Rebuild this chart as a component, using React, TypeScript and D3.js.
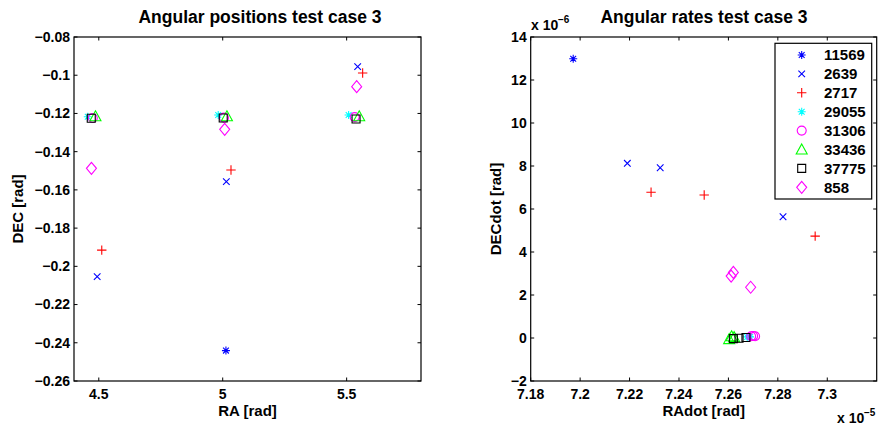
import * as d3 from "d3";

// series, in legend order
const names = ["11569", "2639", "2717", "29055", "31306", "33436", "37775", "858"];
const colors = ["#0000ff", "#0000ff", "#ff0000", "#00ffff", "#ff00ff", "#00ff00", "#000000", "#ff00ff"];
const markers = ["star", "x", "plus", "star", "circle", "triangle", "square", "diamond"];

// angular positions [rad]
const posRA = [
  [5.013],
  [4.4935, 5.0146, 5.5445],
  [4.512, 5.0334, 5.5646],
  [4.4555, 4.9818, 5.508],
  [4.4757, 5.005, 5.5324],
  [4.4866, 5.017, 5.5507],
  [4.4696, 5.002, 5.538],
  [4.4704, 5.008, 5.5405],
];
const posDEC = [
  [-0.2441],
  [-0.2054, -0.1557, -0.0955],
  [-0.1915, -0.1496, -0.0988],
  [-0.1217, -0.1208, -0.1208],
  [-0.1224, -0.1222, -0.1219],
  [-0.1215, -0.1215, -0.1215],
  [-0.1225, -0.1224, -0.1229],
  [-0.1487, -0.1283, -0.106],
];

// angular rates, RAdot in 1e-5 rad, DECdot in 1e-6 rad
const rateRA = [
  [7.1972],
  [7.2191, 7.2324, 7.2821],
  [7.2287, 7.2502, 7.2951],
  [7.2676, 7.2683, 7.2688],
  [7.2692, 7.27, 7.2708],
  [7.2603, 7.2613, 7.2623],
  [7.262, 7.2643, 7.2671],
  [7.2611, 7.262, 7.269],
];
const rateDEC = [
  [12.99],
  [8.125, 7.92, 5.64],
  [6.78, 6.65, 4.74],
  [0.05, 0.06, 0.05],
  [0.08, 0.09, 0.08],
  [-0.05, 0.08, 0.04],
  [-0.03, -0.01, 0.02],
  [2.88, 3.05, 2.36],
];

const posXTicks = [4.5, 5, 5.5];
const posYTicks = [-0.26, -0.24, -0.22, -0.2, -0.18, -0.16, -0.14, -0.12, -0.1, -0.08];
const rateXTicks = [7.18, 7.2, 7.22, 7.24, 7.26, 7.28, 7.3];
const rateYTicks = [-2, 0, 2, 4, 6, 8, 10, 12, 14];

const FONT = "'Liberation Sans', Arial, Helvetica, sans-serif";

const markerPath = (type: string) => {
  switch (type) {
    case "star":
      return "M-4,0H4M0,-4V4M-2.9,-2.9L2.9,2.9M-2.9,2.9L2.9,-2.9";
    case "x":
      return "M-3.3,-3.3L3.3,3.3M-3.3,3.3L3.3,-3.3";
    case "plus":
      return "M-4.7,0H4.7M0,-4.7V4.7";
    case "circle":
      return "M4.5,0A4.5,4.5 0 1 1 -4.5,0A4.5,4.5 0 1 1 4.5,0Z";
    case "triangle":
      return "M0,-5.5L5.5,4.5L-5.5,4.5Z";
    case "square":
      return "M-4,-4H4V4H-4Z";
    case "diamond":
      return "M0,-6L5,0L0,6L-5,0Z";
  }
  return "";
};

const fmtMinus = (v: number) => String(+v.toFixed(4)).replace("-", "\u2212");

type PanelProps = {
  x0: number;
  x1: number;
  y0: number;
  y1: number;
  xDomain: [number, number];
  yDomain: [number, number];
  xTicks: number[];
  yTicks: number[];
  xs: number[][];
  ys: number[][];
  title: string;
  titleX: number;
  xLabel: string;
  yLabel: string;
  yLabelX: number;
};

const Panel = (p: PanelProps) => {
  const x = d3.scaleLinear().domain(p.xDomain).range([p.x0, p.x1]);
  const y = d3.scaleLinear().domain(p.yDomain).range([p.y1, p.y0]);
  const tl = 3.5;
  return (
    <g fontFamily={FONT} fontWeight="bold" fill="#000">
      <rect x={p.x0} y={p.y0} width={p.x1 - p.x0} height={p.y1 - p.y0} fill="#fff" stroke="none" />
      {/* data */}
      {p.xs.map((serie, i) =>
        serie.map((v, j) => (
          <path
            key={`${i}-${j}`}
            d={markerPath(markers[i])}
            transform={`translate(${x(v)},${y(p.ys[i][j])})`}
            fill="none"
            stroke={colors[i]}
            strokeWidth={1.1}
          />
        )),
      )}
      {/* box */}
      <rect x={p.x0} y={p.y0} width={p.x1 - p.x0} height={p.y1 - p.y0} fill="none" stroke="#000" strokeWidth={1.2} />
      {p.xTicks.map((t, i) => (
        <g key={`xt${i}`}>
          <line x1={x(t)} x2={x(t)} y1={p.y1} y2={p.y1 - tl} stroke="#000" />
          <line x1={x(t)} x2={x(t)} y1={p.y0} y2={p.y0 + tl} stroke="#000" />
          <text x={x(t)} y={p.y1 + 18} textAnchor="middle" fontSize={14}>
            {fmtMinus(t)}
          </text>
        </g>
      ))}
      {p.yTicks.map((t, i) => (
        <g key={`yt${i}`}>
          <line x1={p.x0} x2={p.x0 + tl} y1={y(t)} y2={y(t)} stroke="#000" />
          <line x1={p.x1} x2={p.x1 - tl} y1={y(t)} y2={y(t)} stroke="#000" />
          <text x={p.x0 - 4} y={y(t)} dy="0.35em" textAnchor="end" fontSize={14}>
            {fmtMinus(t)}
          </text>
        </g>
      ))}
      <text x={p.titleX} y={23} textAnchor="middle" fontSize={17.5}>
        {p.title}
      </text>
      <text x={(p.x0 + p.x1) / 2} y={416} textAnchor="middle" fontSize={15}>
        {p.xLabel}
      </text>
      <text
        transform={`translate(${p.yLabelX},${(p.y0 + p.y1) / 2}) rotate(-90)`}
        textAnchor="middle"
        fontSize={15}
      >
        {p.yLabel}
      </text>
    </g>
  );
};

export default function App() {
  const lx = 775;
  const ly = 43.3;
  const lw = 96.7;
  const lh = 155.7;
  return (
    <svg
      width={880}
      height={429}
      style={{ position: "absolute", left: 0, top: 0, background: "#fff" }}
    >
      <rect width={880} height={429} fill="#fff" />
      <Panel
        x0={74}
        x1={421}
        y0={37}
        y1={381}
        xDomain={[4.4, 5.8]}
        yDomain={[-0.26, -0.08]}
        xTicks={posXTicks}
        yTicks={posYTicks}
        xs={posRA}
        ys={posDEC}
        title="Angular positions test case 3"
        titleX={260}
        xLabel="RA [rad]"
        yLabel="DEC [rad]"
        yLabelX={23}
      />
      <Panel
        x0={530.7}
        x1={876.7}
        y0={37}
        y1={381}
        xDomain={[7.18, 7.32]}
        yDomain={[-2, 14]}
        xTicks={rateXTicks}
        yTicks={rateYTicks}
        xs={rateRA}
        ys={rateDEC}
        title="Angular rates test case 3"
        titleX={704}
        xLabel="RAdot [rad]"
        yLabel="DECdot [rad]"
        yLabelX={501}
      />
      {/* exponent labels */}
      <g fontFamily={FONT} fontWeight="bold" fill="#000">
        <text x={531} y={30} fontSize={14}>x 10</text>
        <text x={558} y={23} fontSize={10}>{"\u22126"}</text>
        <text x={837} y={423} fontSize={14}>x 10</text>
        <text x={864} y={416} fontSize={10}>{"\u22125"}</text>
      </g>
      {/* legend */}
      <g fontFamily={FONT} fontWeight="bold">
        <rect x={lx} y={ly} width={lw} height={lh} fill="#fff" stroke="#000" strokeWidth={1.2} />
        {names.map((n, i) => (
          <g key={n} transform={`translate(0,${55 + i * 18.9})`}>
            <path
              d={markerPath(markers[i])}
              transform="translate(801.7,0)"
              fill="none"
              stroke={colors[i]}
              strokeWidth={1.1}
            />
            <text x={824} dy="0.36em" fontSize={15}>
              {n}
            </text>
          </g>
        ))}
      </g>
    </svg>
  );
}
